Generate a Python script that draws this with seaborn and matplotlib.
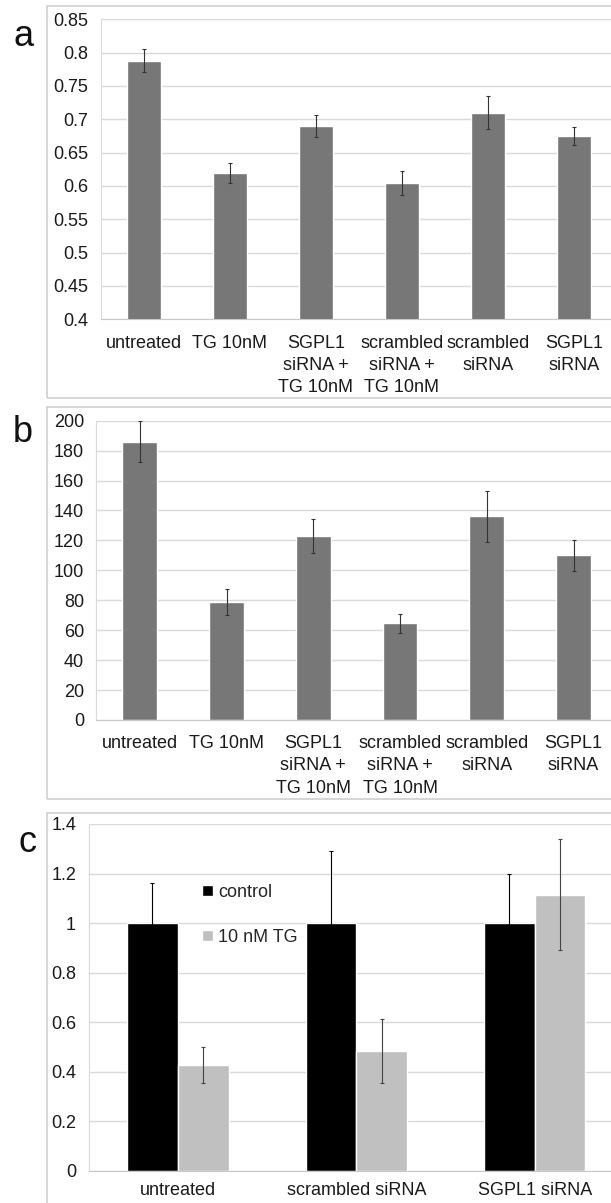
import numpy as np
import pandas as pd
import matplotlib
matplotlib.use("Agg")
import matplotlib.pyplot as plt
import seaborn as sns
from matplotlib.patches import Rectangle

# panel a / b conditions
conditions = ["untreated", "TG 10nM", "SGPL1\nsiRNA +\nTG 10nM",
              "scrambled\nsiRNA +\nTG 10nM", "scrambled\nsiRNA", "SGPL1\nsiRNA"]
a_values = [0.788, 0.619, 0.690, 0.604, 0.710, 0.675]
a_errors = [0.017, 0.015, 0.016, 0.018, 0.025, 0.014]
b_values = [186, 79, 123, 64.5, 136, 110]
b_errors = [13.7, 8.8, 11.2, 6.3, 17, 10.3]

# panel c
c_groups = ["untreated", "scrambled siRNA", "SGPL1 siRNA"]
c_series = ["control", "10 nM TG"]
c_control = [1.0, 1.0, 1.0]
c_control_err = [0.16, 0.29, 0.20]
c_tg = [0.427, 0.483, 1.115]
c_tg_err = [0.071, 0.13, 0.225]

W, H = 611, 1203
sns.set_style("white")
plt.rcParams['font.family'] = ['Liberation Sans', 'DejaVu Sans']
plt.rcParams['font.size'] = 13

GRID = "#d9d9d9"
TXT = "#1a1a1a"

fig = plt.figure(figsize=(W / 100, H / 100), dpi=100)


def px_axes(left, top, right, bottom):
    return fig.add_axes([left / W, 1 - bottom / H, (right - left) / W, (bottom - top) / H])


def frame_box(left, top, right, bottom):
    fig.patches.append(Rectangle((left / W, 1 - bottom / H), (right - left) / W, (bottom - top) / H,
                                 transform=fig.transFigure, fill=False, ec="#d0d0d0", lw=1.2))


def g_fmt(v, pos):
    return "%g" % round(v, 3)


def style_axes(ax, n, ylim, step, xpad):
    ax.set_xlim(-0.5, n - 0.5)
    ax.set_ylim(*ylim)
    ax.set_yticks(np.arange(ylim[0], ylim[1] + step / 2, step))
    ax.yaxis.set_major_formatter(plt.FuncFormatter(g_fmt))
    ax.yaxis.grid(True, color=GRID, lw=1)
    ax.set_axisbelow(True)
    for s in ["top", "right"]:
        ax.spines[s].set_visible(False)
    ax.spines["left"].set_color(GRID)
    ax.spines["bottom"].set_color("#c8c8c8")
    ax.tick_params(axis="y", length=5, color=GRID, pad=4, labelcolor=TXT, labelsize=13)
    ax.tick_params(axis="x", which="major", length=0, pad=xpad, labelcolor=TXT, labelsize=13)
    ax.set_xticks(np.arange(-0.5, n, 1), minor=True)
    ax.tick_params(axis="x", which="minor", length=5, color="#c8c8c8")
    for lbl in ax.get_xticklabels():
        lbl.set_linespacing(1.4)
    ax.set_xlabel("")
    ax.set_ylabel("")


# ---- panel a
frame_box(46.5, 6, 625, 398)
ax_a = px_axes(101, 19.3, 617, 319.3)
df_a = pd.DataFrame({"cond": conditions, "val": a_values})
sns.barplot(data=df_a, x="cond", y="val", color="#777777", width=0.4, saturation=1,
            errorbar=None, ax=ax_a)
ax_a.errorbar(np.arange(len(conditions)), a_values, yerr=a_errors, fmt="none",
              ecolor="#333333", elinewidth=0.8, capsize=1.5, capthick=0.8)
style_axes(ax_a, len(conditions), (0.4, 0.85), 0.05, 11)
fig.text(24 / W, 1 - 36 / H, "a", fontsize=26, ha="center", va="center", color="#111111")

# ---- panel b
frame_box(46.5, 407, 625, 799)
ax_b = px_axes(96.4, 420.7, 617, 720)
df_b = pd.DataFrame({"cond": conditions, "val": b_values})
sns.barplot(data=df_b, x="cond", y="val", color="#777777", width=0.4, saturation=1,
            errorbar=None, ax=ax_b)
ax_b.errorbar(np.arange(len(conditions)), b_values, yerr=b_errors, fmt="none",
              ecolor="#333333", elinewidth=0.8, capsize=1.5, capthick=0.8)
style_axes(ax_b, len(conditions), (0, 200), 20, 11)
fig.text(22.5 / W, 1 - 432 / H, "b", fontsize=26, ha="center", va="center", color="#111111")

# ---- panel c
frame_box(46.5, 812.7, 625, 1215)
ax_c = px_axes(88.6, 824, 624, 1170.7)
df_c = pd.DataFrame({
    "group": c_groups * 2,
    "series": [c_series[0]] * 3 + [c_series[1]] * 3,
    "val": c_control + c_tg,
})
sns.barplot(data=df_c, x="group", y="val", hue="series", hue_order=c_series,
            palette=["black", "#c0c0c0"], width=0.568, gap=0, saturation=1,
            errorbar=None, ax=ax_c)
for cont, vals, errs, col in zip(ax_c.containers, [c_control, c_tg],
                                 [c_control_err, c_tg_err], ["black", "#444444"]):
    xs = [p.get_x() + p.get_width() / 2 for p in cont.patches]
    ax_c.errorbar(xs, vals, yerr=errs, fmt="none", ecolor=col,
                  elinewidth=0.8, capsize=1.5, capthick=0.8)
style_axes(ax_c, len(c_groups), (0, 1.4), 0.2, 8)
handles, labels = ax_c.get_legend_handles_labels()
ax_c.legend(handles, labels, loc="upper left", bbox_to_anchor=(202 / W, 1 - 884 / H),
            bbox_transform=fig.transFigure, frameon=False, fontsize=13,
            handlelength=0.6, handleheight=0.55, handletextpad=0.3,
            labelspacing=1.55, borderpad=0, borderaxespad=0)
fig.text(27 / W, 1 - 843 / H, "c", fontsize=26, ha="center", va="center", color="#111111")

fig.savefig("out.png", dpi=100, facecolor="white")
